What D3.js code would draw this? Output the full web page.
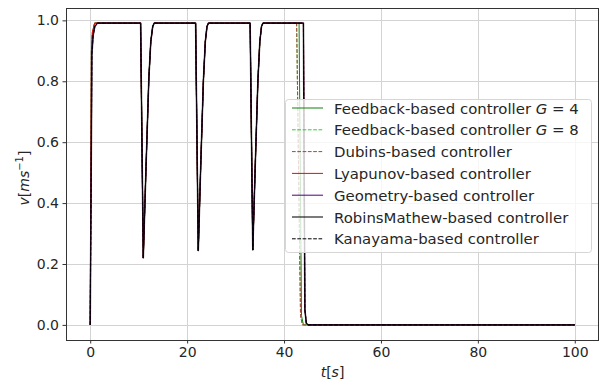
<!DOCTYPE html>
<html>
<head>
<meta charset="utf-8">
<script src="https://cdn.jsdelivr.net/npm/d3@7"></script>
<style>
  body { margin: 0; background: #fff; }
  svg { font-family: "DejaVu Sans", sans-serif; }
</style>
</head>
<body>
<script>
// velocity profiles, [t, v]
const riseFast = [[0, 0], [0.25, 0.9], [0.45, 0.96], [0.9, 0.991]];
const riseSlow = [[0, 0], [0.35, 0.89], [0.6, 0.95], [0.95, 0.98], [1.5, 0.991]];
const dips = [
  [10.4, 0.991], [10.95, 0.22], [11.5, 0.51], [12.1, 0.81], [12.5, 0.93], [12.9, 0.98], [13.2, 0.991],
  [21.75, 0.991], [22.3, 0.244], [22.8, 0.52], [23.35, 0.80], [23.75, 0.93], [24.1, 0.98], [24.4, 0.991],
  [33.0, 0.991], [33.55, 0.246], [34.05, 0.52], [34.6, 0.80], [35.0, 0.93], [35.35, 0.98], [35.65, 0.991]
];
const stopEarly = [[42.6, 0.991], [43.4, 0.03], [43.8, 0], [100, 0]];
const stopMid = [[43.1, 0.991], [43.6, 0.03], [44.0, 0], [100, 0]];
const stopLate = [[44.0, 0.991], [44.3, 0.05], [44.6, 0.005], [45, 0], [100, 0]];

const xTicks = [0, 20, 40, 60, 80, 100];
const yTicks = [0.0, 0.2, 0.4, 0.6, 0.8, 1.0];

const series = [
  {name: 'Feedback-based controller', g: '4', pts: riseFast.concat(dips, stopMid), color: '#108010', dash: null, w: 1},
  {name: 'Feedback-based controller', g: '8', pts: riseFast.concat(dips, stopEarly), color: '#33cc33', dash: '3.7,1.6', w: 1},
  {name: 'Dubins-based controller', pts: riseFast.concat(dips, stopEarly), color: '#b04040', dash: '3.7,1.6', w: 1},
  {name: 'Lyapunov-based controller', pts: riseFast.concat(dips, stopLate), color: '#ff0000', dash: null, w: 1},
  {name: 'Geometry-based controller', pts: riseSlow.concat(dips, stopLate), color: '#4b0082', dash: null, w: 1},
  {name: 'RobinsMathew-based controller', pts: riseSlow.concat(dips, stopLate), color: '#000', op: 0.65, dash: null, w: 1.6},
  {name: 'Kanayama-based controller', pts: riseSlow.concat(dips, stopLate), color: '#000', dash: '3.7,1.6', w: 1}
];

const width = 599, height = 381;
const margin = {top: 8, right: 0, bottom: 41, left: 66};

const svg = d3.select('body').append('svg')
  .attr('width', width)
  .attr('height', height);

const x = d3.scaleLinear().domain([-5, 105]).range([margin.left, width - margin.right]);
const y = d3.scaleLinear().domain([-0.0496, 1.0406]).range([height - margin.bottom, margin.top]);

// grid
const grid = svg.append('g').attr('stroke', '#d3d3d3').attr('stroke-width', 1);
xTicks.forEach(t => {
  grid.append('line').attr('x1', Math.round(x(t)) + 0.5).attr('x2', Math.round(x(t)) + 0.5)
    .attr('y1', margin.top).attr('y2', height - margin.bottom);
});
yTicks.forEach(t => {
  grid.append('line').attr('y1', Math.round(y(t)) + 0.5).attr('y2', Math.round(y(t)) + 0.5)
    .attr('x1', margin.left).attr('x2', width - margin.right);
});

// lines
const line = d3.line().x(d => x(d[0])).y(d => y(d[1]));
const plot = svg.append('g');
series.forEach(s => {
  plot.append('path')
    .attr('d', line(s.pts))
    .attr('fill', 'none')
    .attr('stroke', s.color)
    .attr('stroke-opacity', s.op || 1)
    .attr('stroke-width', s.w)
    .attr('stroke-dasharray', s.dash)
    .attr('stroke-linejoin', 'round');
});

// axes
const xAxis = svg.append('g')
  .attr('transform', `translate(0,${height - margin.bottom})`)
  .call(d3.axisBottom(x).tickValues(xTicks).tickSize(3.5).tickPadding(3.5).tickFormat(d3.format('d')));
const yAxis = svg.append('g')
  .attr('transform', `translate(${margin.left},0)`)
  .call(d3.axisLeft(y).tickValues(yTicks).tickSize(3.5).tickPadding(3.5).tickFormat(d3.format('.1f')));
[xAxis, yAxis].forEach(a => {
  a.select('.domain').remove();
  a.selectAll('.tick line').attr('stroke', '#333');
  a.selectAll('.tick text').attr('fill', '#262626').style('font-size', '14px').style('font-family', 'DejaVu Sans');
});

// frame
svg.append('rect')
  .attr('x', margin.left + 0.5).attr('y', margin.top + 0.5)
  .attr('width', width - margin.right - margin.left - 1)
  .attr('height', height - margin.bottom - margin.top)
  .attr('fill', 'none').attr('stroke', '#333').attr('stroke-width', 1);

// axis labels
const xl = svg.append('text')
  .attr('x', (margin.left + width - margin.right) / 2).attr('y', 377)
  .attr('text-anchor', 'middle').attr('fill', '#262626').style('font-size', '14px');
xl.append('tspan').attr('font-style', 'italic').text('t');
xl.append('tspan').text('[');
xl.append('tspan').attr('font-style', 'italic').text('s');
xl.append('tspan').text(']');

const yl = svg.append('text')
  .attr('transform', `translate(29,${(margin.top + height - margin.bottom) / 2 + 4}) rotate(-90)`)
  .attr('text-anchor', 'middle').attr('fill', '#262626').style('font-size', '14px');
yl.append('tspan').attr('font-style', 'italic').text('v');
yl.append('tspan').text('[');
yl.append('tspan').attr('font-style', 'italic').text('ms');
yl.append('tspan').attr('dy', -6).style('font-size', '10px').text('−1');
yl.append('tspan').attr('dy', 6).text(']');

// legend
const lg = svg.append('g').attr('transform', 'translate(285,99)');
lg.append('rect')
  .attr('x', 0.5).attr('y', 0.5).attr('width', 306).attr('height', 153)
  .attr('rx', 3).attr('fill', '#fff').attr('fill-opacity', 0.8)
  .attr('stroke', '#d6d6d6').attr('stroke-width', 1);
series.forEach((s, i) => {
  const cy = 9 + i * 21.8;
  lg.append('line')
    .attr('x1', 7).attr('x2', 38).attr('y1', cy).attr('y2', cy)
    .attr('stroke', s.color).attr('stroke-opacity', s.op || 1)
    .attr('stroke-width', s.w).attr('stroke-dasharray', s.dash);
  const t = lg.append('text')
    .attr('x', 49).attr('y', cy + 5.5)
    .attr('fill', '#262626').style('font-size', '14.9px');
  t.append('tspan').text(s.name);
  if (s.g) {
    t.append('tspan').attr('font-style', 'italic').text(' G');
    t.append('tspan').text(' = ' + s.g);
  }
});
</script>
</body>
</html>
